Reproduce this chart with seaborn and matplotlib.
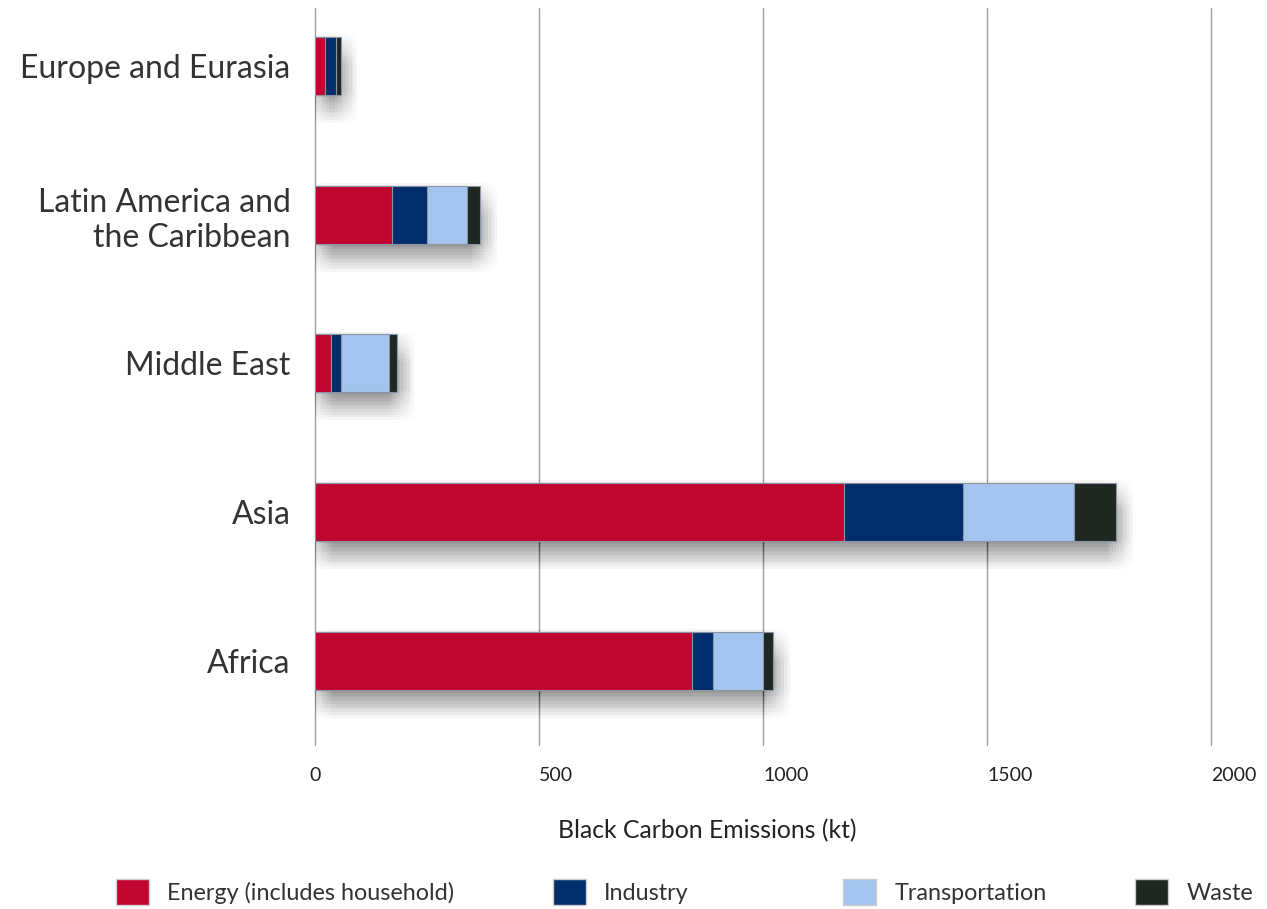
import pandas as pd
import matplotlib.pyplot as plt
import matplotlib.patheffects as pe
from matplotlib.patches import Patch
import seaborn as sns

# values (kt)
regions = ['Europe and Eurasia', 'Latin America and\nthe Caribbean', 'Middle East', 'Asia', 'Africa']
energy = [23, 171, 36, 1181, 842]
industry = [24, 79, 21, 265, 47]
transportation = [0, 89, 109, 249, 111]
waste = [10, 29, 18, 93, 22]

sectors = ['Energy (includes household)', 'Industry', 'Transportation', 'Waste']
colors = ['#C0052F', '#002D6B', '#A3C4EE', '#1F2722']

df = pd.DataFrame({'region': regions, 'Energy (includes household)': energy,
                   'Industry': industry, 'Transportation': transportation, 'Waste': waste})
# cumulative sums for stacking
cum = df[sectors].cumsum(axis=1)
cum['region'] = df['region']

sns.set_style('white')
plt.rcParams['font.family'] = ['Lato', 'DejaVu Sans']

fig = plt.figure(figsize=(12.67, 9.09), dpi=100)
ax = fig.add_axes([0.2486, 0.1804, 0.7072, 0.8108])

# draw from the full stack down so the smaller ones sit on top
for i, s in reversed(list(enumerate(sectors))):
    sns.barplot(data=cum, x=s, y='region', color=colors[i], orient='h', width=0.39,
                edgecolor='#8a95a3', linewidth=0.8, saturation=1, ax=ax, zorder=3)

# fake a blurred drop shadow: many faint copies spread below / right of the bar
n = len(regions)
shadow = [pe.SimplePatchShadow(offset=(dx, dy), shadow_rgbFace='black', alpha=0.0032)
          for dx in range(-6, 14, 2) for dy in range(2, -22, -2)]
for p in ax.patches[:n]:
    p.set_path_effects(shadow + [pe.Normal()])

ax.set_xlim(0, 2000)
ax.set_ylim(4.565, -0.39)
ax.set_xticks([0, 500, 1000, 1500, 2000])
ax.grid(axis='x', color='#a0a0a0', linewidth=1, zorder=0)
ax.set_axisbelow(True)
for gl in ax.get_xgridlines():
    gl.set_clip_on(False)
for sp in ax.spines.values():
    sp.set_visible(False)

ax.tick_params(axis='y', labelsize=23, labelcolor='#333333', length=0, pad=17.5)
ax.tick_params(axis='x', labelsize=14, labelcolor='#222222', length=0, pad=16)
for lbl in ax.get_yticklabels():
    lbl.set_horizontalalignment('right')
xlbls = ax.get_xticklabels()
for lbl in xlbls[1:]:
    lbl.set_horizontalalignment('left')
ax.set_ylabel('')
ax.set_xlabel('Black Carbon Emissions (kt)', fontsize=17.8, color='#222222')
ax.xaxis.set_label_coords(0.4375, -0.100)

# legend entries sit at fixed spots along the bottom
legend_x = [116, 553, 843, 1135]
for s, c, lx in zip(sectors, colors, legend_x):
    h = Patch(facecolor=c, edgecolor='#cccccc', label=s)
    fig.legend(handles=[h], loc='center left', bbox_to_anchor=(lx / 1267, 1 - 892 / 909),
               frameon=False, fontsize=16.8, handlelength=1.4, handleheight=1.4,
               handletextpad=0.8, borderpad=0, borderaxespad=0, labelcolor='#333333')

fig.savefig('out.png', dpi=100)
